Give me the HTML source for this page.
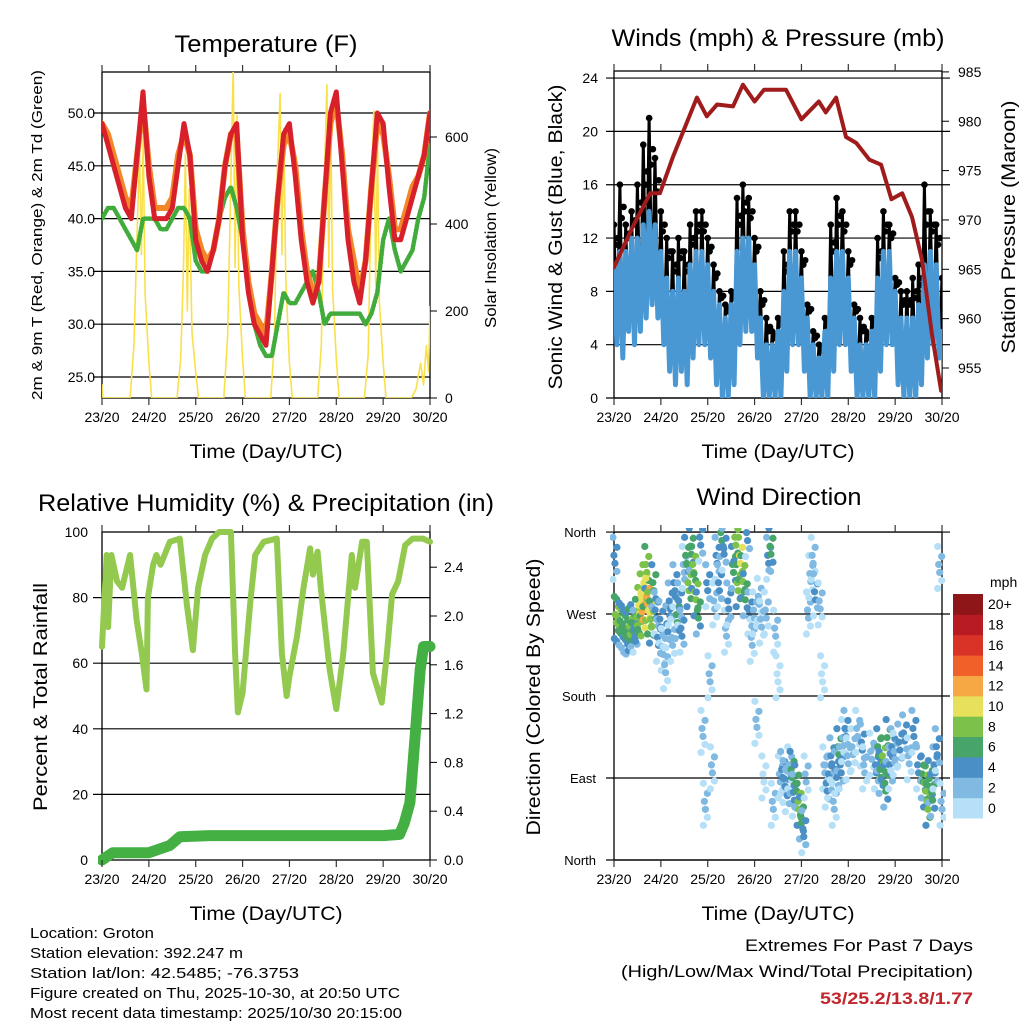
<!DOCTYPE html>
<html><head><meta charset="utf-8"><style>
html,body{margin:0;padding:0;background:#fff;}
svg{display:block;font-family:"Liberation Sans",Arial,sans-serif;}
</style></head><body>
<svg id="c" width="1024" height="1024" viewBox="0 0 1024 1024"></svg>
<script>
// ---------- DATA ----------
const tempStep = 0.125;
const temp2m = [49,47,45,43,41,40,46,52,44, 40,40,40,41,45,49,46,38, 36,35,37,40,45,48,49,38, 33,30,29,28,35,42,48,49, 44,38,34,32,34,42,50,52, 45,38,34,32,36,43,50,49, 43,38,38,40,42,44,46,50];
const temp9m = [49,48,46,44,42,41,46,51,45, 41,41,41,42,46,48,46,39, 37,36,37,40,45,48,48,39, 34,31,30,29,35,42,47,48, 45,39,35,33,34,42,49,51, 46,39,36,33,36,43,49,48, 44,39,39,41,43,44,46,50];
const dew2m = [40,41,41,40,39,38,37,40,40, 40,39,39,40,41,41,40,36, 35,35,37,40,42,43,41,38, 33,30,28,27,27,30,33,32, 32,33,34,35,33,30,31,31, 31,31,31,31,30,31,33,38, 40,37,35,36,37,40,42,47];
const solarT = [0,0.02,0.6,0.68,0.76,0.8,0.84,0.88,0.92,1.0,1.06, 1.6,1.68,1.74,1.78,1.82,1.86,1.92,2.0,2.06, 2.6,2.68,2.74,2.8,2.84,2.88,2.92,3.0,3.06, 3.6,3.68,3.74,3.8,3.84,3.88,3.92,4.0,4.06, 4.6,4.68,4.74,4.8,4.84,4.88,4.92,5.0,5.06, 5.6,5.68,5.74,5.8,5.84,5.88,5.92,6.0,6.06, 6.6,6.7,6.8,6.86,6.92,6.97,7.0];
const solarV = [30,0,0,120,420,560,330,600,240,80,0, 0,90,300,560,200,480,150,60,0, 0,140,450,760,300,650,260,90,0, 0,130,520,700,330,620,280,80,0, 0,120,480,720,300,650,250,90,0, 0,100,450,660,260,580,220,80,0, 0,20,80,30,120,60,210];
const tempTicks = [25,30,35,40,45,50];
const solarTicks = [0,200,400,600];
const windHi = [10,11,11,12,12,13,14,13,11, 9,8,9,8,10,11,11,10, 8,7,6,7,11,12,12,10, 6,4,4,5,8,11,11,9, 6,4,3,5,9,11,11,9, 6,4,4,5,9,11,11,8, 6,6,6,7,10,11,10,5];
const windLo = [4,3,5,4,5,6,7,6,4, 2,1,2,1,3,4,4,3, 1,0,0,1,4,5,5,3, 0,0,0,0,2,4,4,2, 0,0,0,0,2,4,4,2, 0,0,0,0,2,4,4,1, 0,0,0,1,3,4,3,1];
const gustHi = [13,16,13,14,16,19,21,18,14, 12,11,12,11,13,14,14,12, 10,8,7,8,15,16,15,12, 8,6,5,6,11,14,14,11, 7,5,4,6,13,15,14,11, 7,6,5,6,12,14,13,9, 8,8,9,10,16,14,13,9];
const presT = [0,0.4,0.77,0.98,1.26,1.77,1.98,2.2,2.54,2.75,3.0,3.2,3.67,4.0,4.37,4.52,4.74,4.95,5.17,5.45,5.7,5.92,6.15,6.36,6.57,6.78,6.98];
const presV = [965.2,969.3,972.7,972.7,976.4,982.4,980.5,981.7,981.5,983.7,982,983.2,983.2,980.2,982,980.9,982.4,978.4,977.8,976.1,975.6,972.1,972.7,970.3,966,958.6,952.7];
const windTicks = [0,4,8,12,16,20,24];
const presTicks = [955,960,965,970,975,980,985];
const rhT = [0,0.1,0.13,0.2,0.32,0.43,0.6,0.74,0.85,0.95,0.98,1.09,1.16,1.25,1.45,1.66,1.81,1.94,2.05,2.2,2.35,2.5,2.75,2.84,2.9,3.0,3.16,3.27,3.45,3.73,3.84,3.94,4.0,4.16,4.3,4.44,4.5,4.6,4.67,4.86,5.0,5.15,5.33,5.4,5.55,5.65,5.78,5.97,6.08,6.19,6.32,6.47,6.63,6.85,7.0];
const rhV = [65,93,71,93,85,83,93,73,63,52,80,90,93,90,97,98,78,64,83,93,98,100,100,63,45,51,78,93,97,98,63,50,56,68,83,95,87,94,83,58,46,63,93,83,97,97,57,48,63,81,85,96,98,98,97];
const pcpT = [0,0.23,1.0,1.45,1.66,2.3,6.0,6.35,6.45,6.57,6.68,6.79,6.86,7.0];
const pcpV = [0,0.06,0.06,0.12,0.19,0.2,0.2,0.21,0.3,0.47,1.0,1.56,1.75,1.75];
const rhTicks = [0,20,40,60,80,100];
const pcpTicks = ["0.0","0.4","0.8","1.2","1.6","2.0","2.4"];
const dirT = [0.02,0.05,0.1,0.15,0.2,0.25,0.3,0.35,0.4,0.45,0.5,0.55,0.6,0.62,0.66,0.7,0.72,0.76,0.8,0.85,0.9,0.95,1.0,1.05,1.1,1.15,1.2,1.25,1.3,1.35,1.4,1.45,1.5,1.55,1.6,1.65,1.7,1.75,1.8,1.85,1.9,1.95,2.0,2.05,2.1,2.15,2.2,2.25,2.3,2.35,2.4,2.45,2.55,2.6,2.65,2.7,2.75,2.8,2.85,2.9,2.95,3.0,3.05,3.1,3.15,3.2,3.25,3.3,3.35,3.4,3.45,3.5,3.55,3.6,3.65,3.7,3.75,3.8,3.85,3.9,3.95,4.0,4.05,4.1,4.15,4.2,4.25,4.3,4.4,4.45,4.5,4.55,4.6,4.65,4.7,4.75,4.8,4.85,4.9,4.95,5.0,5.1,5.2,5.3,5.35,5.5,5.6,5.65,5.7,5.75,5.8,5.85,5.9,5.95,6.0,6.1,6.2,6.3,6.4,6.5,6.6,6.65,6.7,6.75,6.8,6.85,6.9,6.95,7.0];
const dirD = [330,265,262,258,255,250,248,252,256,250,262,275,290,268,300,320,285,270,260,300,270,240,260,230,210,255,280,240,300,265,280,250,320,330,300,340,320,290,270,350,140,60,300,200,100,280,330,300,355,340,250,280,320,350,300,330,310,290,355,270,240,270,150,285,260,90,270,330,340,60,250,200,90,95,85,75,100,95,70,80,60,45,30,90,270,310,330,290,280,200,100,80,90,110,60,95,120,100,130,140,110,120,140,125,100,115,100,120,95,110,80,130,100,120,115,125,135,110,140,100,90,80,60,85,70,100,120,320,60];
const dirS = [5,8,9,7,6,7,6,8,6,5,9,11,10,12,11,9,12,10,8,6,5,4,4,3,3,4,5,3,4,6,5,4,3,6,8,7,9,8,6,5,3,2,4,2,2,3,4,5,6,5,3,4,7,8,9,10,8,6,4,5,3,3,2,3,2,1,2,4,6,3,2,1,2,4,5,4,3,6,5,7,8,6,4,3,2,3,2,4,2,1,3,4,5,4,3,5,6,4,3,4,3,2,3,4,2,3,5,6,7,8,7,6,5,4,3,4,5,3,4,5,6,9,8,7,6,5,4,2,3];
const dirTicks = ["North","East","South","West","North"];
const speedColors = ["#b5e0f7","#80b9e2","#4a8fc6","#48a56a","#7cc24a","#e6e05a","#f5a843","#ef6129","#d93327","#b81c22","#8e1518"];
const speedLabels = ["0","2","4","6","8","10","12","14","16","18","20+"];
const dayLabels = ["23/20","24/20","25/20","26/20","27/20","28/20","29/20","30/20"];

// ---------- DRAW ----------
const NS="http://www.w3.org/2000/svg";
const svg=document.getElementById('c');
function mk(tag,attrs,parent){const e=document.createElementNS(NS,tag);for(const k in attrs)e.setAttribute(k,attrs[k]);(parent||svg).appendChild(e);return e;}
function txt(s,x,y,size,anchor,extra,parent){const e=mk('text',Object.assign({x:x,y:y,'font-size':size,'text-anchor':anchor||'start',fill:'#000'},extra||{}),parent);e.textContent=s;return e;}
const DAY=46.86;
const xa=t=>102+t*DAY, xb=t=>614+t*DAY;

function frame(x0,x1,y0,y1,name){
  const g=mk('g',{});
  
  
  mk('rect',{x:x0,y:y0,width:x1-x0,height:y1-y0,fill:'none',stroke:'#000','stroke-width':1.3},g);
  return g;
}
function xAxis(xf,y0,y1,g,titleX){
  for(let i=0;i<dayLabels.length;i++){
    const x=xf(i);
    mk('line',{x1:x,y1:y1,x2:x,y2:y1+7,stroke:'#333','stroke-width':1.2},g);
    mk('line',{x1:x,y1:y0,x2:x,y2:y0-7,stroke:'#333','stroke-width':1.2},g);
    const t=txt(dayLabels[i],x,y1+24,14,'middle',{},g);
    
    
  }
  const tt=txt('Time (Day/UTC)',titleX,y1+60,19,'middle',{textLength:153,lengthAdjust:'spacingAndGlyphs'},g);
  
  
}
function clip(id,x0,y0,x1,y1){const cp=mk('clipPath',{id:id});mk('rect',{x:x0,y:y0,width:x1-x0,height:y1-y0},cp);}
function poly(xs,ys,attrs,g,name){
  const pts=xs.map((x,i)=>x.toFixed(1)+','+ys[i].toFixed(1)).join(' ');
  const p=mk('polyline',Object.assign({points:pts,fill:'none','stroke-linejoin':'round','stroke-linecap':'round'},attrs),g);
  
  
  return p;
}
function gridTime(arr,step){return arr.map((v,i)=>i*step);}

// ===== Panel 1: Temperature =====
{
  const y1=T=>377-(T-25)*10.56, ys=v=>398-v*0.435;
  clip('c1',102,72,430,398);
  const g=frame(102,430,72,398,'temperature-panel');
  tempTicks.forEach(v=>{mk('line',{x1:93,y1:y1(v),x2:430,y2:y1(v),stroke:'#000','stroke-width':1.2},g);
    const t=txt(v.toFixed(1),95,y1(v)+5,14,'end',{},g);});
  solarTicks.forEach(v=>{mk('line',{x1:430,y1:ys(v),x2:437,y2:ys(v),stroke:'#000'},g);
    const t=txt(String(v),445,ys(v)+5,14,'start',{},g);});
  const pg=mk('g',{'clip-path':'url(#c1)'},g);
  poly(solarT.map(xa),solarV.map(ys),{stroke:'#f9e04a','stroke-width':1.6},pg,'solar-insolation-line');
  const tt=gridTime(temp2m,tempStep);
  poly(tt.map(xa),dew2m.map(y1),{stroke:'#41ab3c','stroke-width':4.5,'stroke-dasharray':'2 2'},pg,'dewpoint-2m-line');
  poly(tt.map(xa),temp9m.map(y1),{stroke:'#f4862a','stroke-width':6},pg,'temp-9m-line');
  poly(tt.map(xa),temp2m.map(y1),{stroke:'#d7202a','stroke-width':5},pg,'temp-2m-line');
  xAxis(xa,72,398,g,266);
  let t=txt('Temperature (F)',266,52,24,'middle',{textLength:183,lengthAdjust:'spacingAndGlyphs'},g);
  t=txt('2m & 9m T (Red, Orange) & 2m Td (Green)',0,0,15,'middle',{transform:'translate(42,235) rotate(-90)',textLength:330,lengthAdjust:'spacingAndGlyphs'},g);
  t=txt('Solar Insolation (Yellow)',0,0,16,'middle',{transform:'translate(496,238) rotate(-90)',textLength:180,lengthAdjust:'spacingAndGlyphs'},g);
}
// ===== Panel 2: Winds =====
{
  const y2=w=>398-w*13.33, yp=p=>368-(p-955)*9.87;
  clip('c2',614,72,942,398);
  const g=frame(614,942,71,398,'winds-panel');
  windTicks.forEach(v=>{mk('line',{x1:606,y1:y2(v),x2:950,y2:y2(v),stroke:'#000','stroke-width':1.2},g);
    const t=txt(String(v),598,y2(v)+5,14,'end',{},g);});
  presTicks.forEach(v=>{mk('line',{x1:942,y1:yp(v),x2:949,y2:yp(v),stroke:'#000'},g);
    const t=txt(String(v),958,yp(v)+5,14,'start',{},g);});
  const pg=mk('g',{'clip-path':'url(#c2)'},g);
  const wt=gridTime(windHi,0.125);
  const gx=[],gy=[],bx=[],by=[];
  wt.forEach((t,i)=>{gx.push(xb(t));gy.push(y2(gustHi[i]));gx.push(xb(t+0.0625));gy.push(y2(windLo[i]));
    bx.push(xb(t));by.push(y2(windHi[i]));bx.push(xb(t+0.0625));by.push(y2(windLo[i]));});
  poly(gx,gy,{stroke:'#000','stroke-width':3},pg,'gust-trace');
  wt.forEach((t,i)=>{
    const c=mk('circle',{cx:xb(t),cy:y2(gustHi[i]),r:3.3,fill:'#000'},pg);
    
    
    const c2=mk('circle',{cx:xb(t+0.04),cy:y2((gustHi[i]+windHi[i])/2),r:3.3,fill:'#000'},pg);
    
    
    const c3=mk('circle',{cx:xb(t+0.08),cy:y2((gustHi[i]*2+windHi[i])/3),r:3.3,fill:'#000'},pg);
    
    
  });
  poly(bx,by,{stroke:'#4a98d3','stroke-width':5},pg,'sonic-wind-line');
  poly(presT.map(xb),presV.map(yp),{stroke:'#a01c1c','stroke-width':4},pg,'pressure-line');
  xAxis(xb,71,398,g,778);
  let t=txt('Winds (mph) & Pressure (mb)',778,46,24,'middle',{textLength:333,lengthAdjust:'spacingAndGlyphs'},g);
  t=txt('Sonic Wind & Gust (Blue, Black)',0,0,19,'middle',{transform:'translate(562,237) rotate(-90)',textLength:305,lengthAdjust:'spacingAndGlyphs'},g);
  t=txt('Station Pressure (Maroon)',0,0,19,'middle',{transform:'translate(1015,227) rotate(-90)',textLength:253,lengthAdjust:'spacingAndGlyphs'},g);
}
// ===== Panel 3: RH & precip =====
{
  const y3=r=>860-r*3.28, yr=p=>860-p*122;
  clip('c3',98,528,436,866);
  const g=frame(102,430,532,860,'humidity-panel');
  rhTicks.forEach(v=>{ if(v>0&&v<100) mk('line',{x1:93,y1:y3(v),x2:430,y2:y3(v),stroke:'#000','stroke-width':1.2},g);
    const t=txt(String(v),88,y3(v)+5,14,'end',{},g);});
  pcpTicks.forEach(v=>{const y=yr(parseFloat(v));mk('line',{x1:430,y1:y,x2:437,y2:y,stroke:'#000'},g);
    const t=txt(v,444,y+5,14,'start',{},g);});
  const pg=mk('g',{'clip-path':'url(#c3)'},g);
  poly(rhT.map(xa),rhV.map(y3),{stroke:'#93c94f','stroke-width':6},pg,'rh-line');
  poly(pcpT.map(xa),pcpV.map(yr),{stroke:'#44b044','stroke-width':11},pg,'precip-line');
  xAxis(xa,532,860,g,266);
  let t=txt('Relative Humidity (%) & Precipitation (in)',266,511,24,'middle',{textLength:456,lengthAdjust:'spacingAndGlyphs'},g);
  t=txt('Percent & Total Rainfall',0,0,19,'middle',{transform:'translate(47,697) rotate(-90)',textLength:228,lengthAdjust:'spacingAndGlyphs'},g);
}
// ===== Panel 4: Wind direction =====
{
  const y4=d=>860-d*0.911;
  clip('c4',610,528,946,864);
  const g=frame(614,942,532,860,'wind-direction-panel');
  dirTicks.forEach((s,i)=>{const y=y4(i*90); mk('line',{x1:606,y1:y,x2:950,y2:y,stroke:'#000','stroke-width':1.2},g);
    const t=txt(s,596,y+5,13,'end',{},g);});
  const pg=mk('g',{'clip-path':'url(#c4)'},g);
  const offs=[[-2,-22,-1],[2,-12,0],[-1,-4,0],[0,4,0],[2,12,-1],[-2,20,-2]];
  dirT.forEach((tv,i)=>{
    const ci=Math.min(10,Math.floor(dirS[i]/2));
    offs.forEach(o=>{
      const c=mk('circle',{cx:xb(tv)+o[0],cy:y4(dirD[i])+o[1],r:3.6,fill:speedColors[Math.max(0,ci+o[2])]},pg);
      
      
    });
  });
  xAxis(xb,532,860,g,778);
  let t=txt('Wind Direction',779,505,24,'middle',{textLength:165,lengthAdjust:'spacingAndGlyphs'},g);
  t=txt('Direction (Colored By Speed)',0,0,19,'middle',{transform:'translate(540,697) rotate(-90)',textLength:277,lengthAdjust:'spacingAndGlyphs'},g);
  const cb=mk('g',{});
  
  
  const h=224/11;
  speedColors.forEach((c,i)=>{const y=818-(i+1)*h;
    const r=mk('rect',{x:953,y:y,width:30,height:h+0.5,fill:c},cb);
    
    
    const l=txt(speedLabels[i],988,y+h/2+5,14,'start',{},cb);
    
    
  });
  const u=txt('mph',990,587,14,'start',{},cb);
  
  
}
// ===== Footer =====
const foot=[["Location: Groton",124],["Station elevation: 392.247 m",213],["Station lat/lon: 42.5485; -76.3753",269],["Figure created on Thu, 2025-10-30, at 20:50 UTC",370],["Most recent data timestamp: 2025/10/30 20:15:00",372]];
foot.forEach((f,i)=>{const t=txt(f[0],30,938+i*20,15,'start',{textLength:f[1],lengthAdjust:'spacingAndGlyphs'});
  
  });
let e=txt('Extremes For Past 7 Days',973,951,17,'end',{textLength:228,lengthAdjust:'spacingAndGlyphs'});


e=txt('(High/Low/Max Wind/Total Precipitation)',973,977,17,'end',{textLength:352,lengthAdjust:'spacingAndGlyphs'});


e=txt('53/25.2/13.8/1.77',973,1004,17,'end',{fill:'#c0272d','font-weight':'bold',textLength:153,lengthAdjust:'spacingAndGlyphs'});


</script>
</body></html>
